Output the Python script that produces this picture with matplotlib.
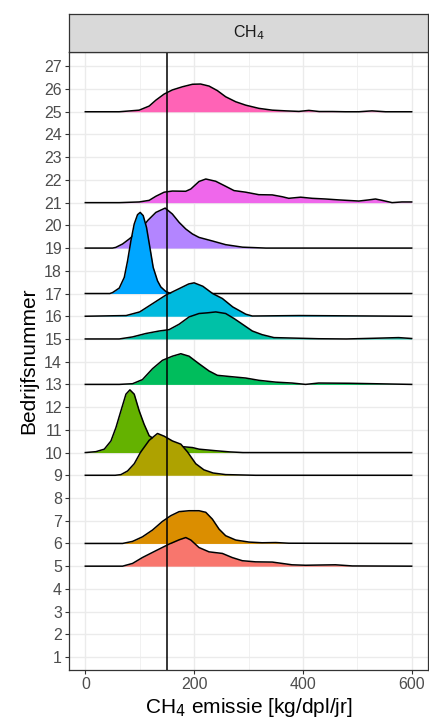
import matplotlib.pyplot as plt
import numpy as np

plt.rcParams['font.family'] = ['Liberation Sans', 'DejaVu Sans']

# farm numbers that have emission data, bottom to top
farms = [5, 6, 9, 10, 13, 15, 16, 17, 19, 21, 25]
colors = ["#F8766D", "#DB8E00", "#AEA200", "#64B200", "#00BD5C", "#00C1A7",
          "#00BADE", "#00A6FF", "#B385FF", "#EF67EB", "#FF63B6"]

# density ridges: emission values [kg/dpl/jr] and scaled ridge height (rows)
ridge_x = {
    5: [0, 68.5, 86.8, 105, 129.7, 154, 172.5, 184.7, 194, 209, 227.5, 252, 270, 288.6, 313, 343.7, 362, 380, 405, 430, 460, 491, 600],
    6: [0, 68.5, 86.8, 105, 123.5, 141.8, 157, 172.5, 190.8, 209, 221.5, 233.6, 245.9, 258, 276.5, 301, 325, 350, 374, 600],
    9: [0, 55, 65.5, 77.7, 90, 102, 117.4, 132.7, 145, 160.2, 175.6, 187.8, 203, 218, 235, 258, 313, 600],
    10: [0, 19.6, 34.9, 47.1, 56.3, 65.5, 74.7, 82, 89.9, 99, 108, 117.4, 136, 160, 197, 209, 240, 265, 290, 600],
    13: [0, 62.4, 86.8, 105, 123.5, 141.8, 160, 175.6, 190.8, 209, 227.5, 242.8, 264, 294.9, 319, 350, 380, 405, 429, 485, 600],
    15: [0, 62.4, 86.8, 111.3, 135.8, 154, 172.5, 190.8, 209, 224.4, 239.8, 258, 273.4, 291.8, 307, 325, 346.8, 380, 429, 480, 530, 576, 600],
    16: [0, 75, 100, 124, 148, 173, 190, 200, 216, 234, 252, 271, 295, 307, 393, 600],
    17: [0, 45, 50, 62.4, 71.6, 77.7, 83.8, 89.9, 96, 100.9, 106.4, 112.5, 118.7, 124.8, 132.7, 138.8, 148, 157, 600],
    19: [0, 50, 56, 68.5, 80.7, 100, 115, 129.7, 146.8, 160, 172.5, 184.7, 197, 209, 234, 258, 289, 332, 600],
    21: [0, 62.4, 99, 117.4, 129.7, 145, 160, 184.7, 194, 209, 221.5, 239.8, 258, 273.4, 294.9, 319, 343.7, 362, 374, 395.8, 417, 441.6, 466, 502.8, 521, 533.4, 545.6, 564, 582, 600],
    25: [0, 62.4, 99, 117.4, 129.7, 145, 160, 178.6, 197, 212, 227.5, 242.8, 258, 276.5, 294.9, 319, 343.7, 368, 392.7, 411, 430, 454, 478, 503, 527, 552, 600],
}
ridge_h = {
    5: [0, 0, 0.12, 0.38, 0.68, 0.97, 1.16, 1.26, 1.15, 0.82, 0.63, 0.56, 0.38, 0.24, 0.19, 0.18, 0.12, 0.06, 0.04, 0.05, 0.06, 0.01, 0],
    6: [0, 0, 0.09, 0.29, 0.59, 0.97, 1.22, 1.40, 1.44, 1.44, 1.37, 1.07, 0.63, 0.34, 0.15, 0.06, 0.03, 0.04, 0.01, 0],
    9: [0, 0, 0.03, 0.19, 0.51, 1.03, 1.54, 1.84, 1.72, 1.51, 1.37, 1.03, 0.51, 0.24, 0.10, 0.03, 0, 0],
    10: [0, 0.04, 0.15, 0.51, 1.10, 1.84, 2.57, 2.76, 2.57, 1.84, 1.25, 0.74, 0.45, 0.30, 0.22, 0.15, 0.08, 0.03, 0, 0],
    13: [0, 0, 0.03, 0.21, 0.69, 1.06, 1.24, 1.35, 1.24, 0.91, 0.59, 0.40, 0.35, 0.28, 0.18, 0.10, 0.06, 0, 0.06, 0.05, 0],
    15: [0, 0, 0.09, 0.24, 0.35, 0.41, 0.65, 0.97, 1.12, 1.15, 1.19, 1.12, 0.90, 0.60, 0.35, 0.19, 0.06, 0.04, 0.01, 0, 0.03, 0.06, 0.02],
    16: [0, 0.03, 0.19, 0.56, 0.93, 1.22, 1.42, 1.47, 1.32, 1.00, 0.78, 0.41, 0.09, 0.01, 0.03, 0],
    17: [0, 0, 0.04, 0.24, 0.71, 1.44, 2.32, 3.06, 3.47, 3.57, 3.43, 2.91, 2.03, 1.15, 0.56, 0.29, 0.09, 0, 0],
    19: [0, 0, 0.03, 0.18, 0.40, 0.78, 1.22, 1.57, 1.76, 1.50, 1.13, 0.84, 0.62, 0.47, 0.31, 0.15, 0.04, 0, 0],
    21: [0, 0, 0.03, 0.10, 0.28, 0.46, 0.51, 0.50, 0.60, 0.93, 1.04, 0.94, 0.72, 0.53, 0.46, 0.35, 0.34, 0.26, 0.19, 0.24, 0.19, 0.16, 0.12, 0.07, 0.12, 0.16, 0.10, 0, 0.03, 0.03],
    25: [0, 0, 0.07, 0.25, 0.51, 0.78, 0.96, 1.10, 1.21, 1.22, 1.13, 0.93, 0.66, 0.44, 0.29, 0.15, 0.07, 0.04, 0.015, 0.06, 0.01, 0.01, 0, 0, 0.04, 0, 0],
}
norm_value = 150
yticks = list(range(1, 28))

W, H = 429, 727
fig = plt.figure(figsize=(W / 100, H / 100), dpi=100)
ax = fig.add_axes([69 / W, (H - 670) / H, (428 - 69) / W, (670 - 52) / H])

grey20 = "#333333"
ax.set_xlim(-30, 630)
ax.set_ylim(0.43, 27.63)
ax.set_xticks([0, 200, 400, 600])
ax.set_xticks([100, 300, 500], minor=True)
ax.set_yticks(yticks)
ax.grid(which="major", color="#EBEBEB", linewidth=1.0, zorder=0)
ax.grid(which="minor", axis="x", color="#EBEBEB", linewidth=0.5, zorder=0)
ax.set_axisbelow(True)
ax.tick_params(which="major", length=3, width=0.8, color=grey20,
               labelsize=11.5, labelcolor="#4D4D4D", pad=2)
ax.tick_params(which="minor", length=0)
for sp in ax.spines.values():
    sp.set_color(grey20)
    sp.set_linewidth(0.9)

# higher farms first so lower ridges overlap them
for i, (farm, col) in enumerate(zip(farms[::-1], colors[::-1])):
    x = np.array(ridge_x[farm])
    top = farm + np.array(ridge_h[farm])
    z = 2 + i
    ax.fill_between(x, farm, top, color=col, linewidth=0, zorder=z)
    ax.plot(x, top, color="black", linewidth=1.1, zorder=z + 0.5,
            solid_joinstyle="round")

ax.axvline(norm_value, color="black", linewidth=1.1, zorder=30)

ax.set_xlabel("CH$_4$ emissie [kg/dpl/jr]", fontsize=15, labelpad=3)
ax.set_ylabel("Bedrijfsnummer", fontsize=15, labelpad=4)

# facet strip
strip = fig.add_axes([69 / W, (H - 52) / H, (428 - 69) / W, 38 / H])
strip.set_facecolor("#D9D9D9")
strip.set_xticks([])
strip.set_yticks([])
for sp in strip.spines.values():
    sp.set_color(grey20)
    sp.set_linewidth(0.9)
strip.text(0.5, 0.5, "CH$_4$", ha="center", va="center", fontsize=11.5,
           color="#1A1A1A", transform=strip.transAxes)

fig.savefig("out.png", dpi=100)
